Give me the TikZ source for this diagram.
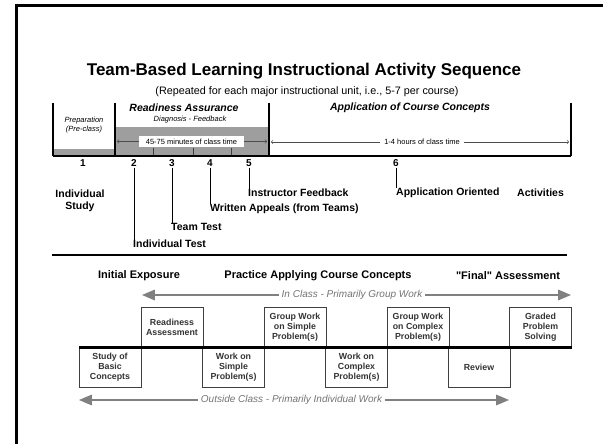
\documentclass[tikz,border=0pt]{standalone}
\usepackage{fontspec}
\setmainfont{Liberation Sans}
\usetikzlibrary{arrows, positioning}

\begin{document}
\begin{tikzpicture}[x=1pt, y=-1pt,
        lbl/.style = {font=\fontsize{10.5}{12.5}\selectfont\bfseries, inner sep=0pt},
        num/.style = {font=\fontsize{10}{12}\selectfont\bfseries, inner sep=1pt},
        phase/.style = {font=\fontsize{10.5}{12}\selectfont\bfseries\itshape, inner sep=0pt},
        tiny/.style = {font=\fontsize{7.5}{9}\selectfont, inner sep=0pt},
        box/.style = {draw=black!75, line width=0.8pt, minimum width=62pt, minimum height=40pt, inner sep=1pt, align=center, font=\fontsize{8.8}{9.8}\selectfont\bfseries, text=black!80},
        ghead/.style = {font=\fontsize{11}{13}\selectfont\bfseries, inner sep=0pt},
        glabel/.style = {font=\fontsize{10}{12}\selectfont\itshape, text=black!55, inner sep=3pt},
        garrow/.style = {draw=black!50, line width=2pt, -triangle 45},
        tarrow/.style = {draw=black!70, line width=0.6pt, -to}]
        \useasboundingbox (0,0) rectangle (603,444);
        \draw [line width=3pt] (16,444) -- (16,6) -- (603,6);

        % title
        \node[font=\fontsize{17}{20}\selectfont\bfseries] (title) at (304,71) {Team-Based Learning Instructional Activity Sequence};
        \node[font=\fontsize{10.8}{13}\selectfont] (sub) at (307,92) {(Repeated for each major instructional unit, i.e., 5-7 per course)};

        % upper time line
        \fill [black!38] (115,127) rectangle (269,156);
        \fill [black!38] (53,149) rectangle (115,156);
        \foreach \x in {153, 193, 231}
                \draw [line width=0.9pt, black!75] (\x,148) -- (\x,156);
        \draw [line width=1.6pt] (53,103) -- (53,156);
        \draw [line width=1.6pt] (115,103) -- (115,156);
        \draw [line width=1.6pt] (269,103) -- (269,156);
        \draw [line width=1.6pt] (571,103) -- (571,156);
        \draw [line width=2.4pt] (53,156) -- (571,156);

        \node[tiny, font=\fontsize{7.5}{9}\selectfont\itshape, align=center] (prep) at (84,125) {Preparation\\(Pre-class)};
        \node[phase] (ra) at (184,108) {Readiness Assurance};
        \node[tiny, font=\fontsize{7.5}{9}\selectfont\itshape] (diag) at (190,120) {Diagnosis - Feedback};
        \node[phase] (acc) at (410,108) {Application of Course Concepts};

        \node[tiny, fill=white, minimum width=105pt, minimum height=11pt] (min) at (191.5,141.5) {45-75 minutes of class time};
        \coordinate (minL) at (117,141.5);
        \coordinate (minR) at (267,141.5);
        \draw [tarrow] (min.west) -- (minL);
        \draw [tarrow] (min.east) -- (minR);

        \node[tiny, inner sep=4pt] (hrs) at (422,142) {1-4 hours of class time};
        \coordinate (hrsL) at (271,142);
        \coordinate (hrsR) at (569,142);
        \draw [tarrow] (hrs.west) -- (hrsL);
        \draw [tarrow] (hrs.east) -- (hrsR);

        \node[num] at (83,163) (n1) {1};
        \node[num] at (134,163) (n2) {2};
        \node[num] at (172,163) (n3) {3};
        \node[num] at (210,163) (n4) {4};
        \node[num] at (249,163) (n5) {5};
        \node[num] at (396,163) (n6) {6};

        \node[lbl, align=center] at (80,201) (study) {Individual\\Study};
        \node[lbl, anchor=west] at (133,244) (itest) {Individual Test};
        \node[lbl, anchor=west] at (171,227) (ttest) {Team Test};
        \node[lbl, anchor=west] at (210,209) (appeal) {Written Appeals (from Teams)};
        \node[lbl, anchor=west] at (248,193) (fback) {Instructor Feedback};
        \node[lbl, anchor=west] at (396,193) (apply) {Application Oriented};
        \node[lbl, anchor=west] at (517,193) (activ) {Activities};

        \draw [line width=0.8pt] (n2.south) -- (n2 |- itest.north);
        \draw [line width=0.8pt] (n3.south) -- (n3 |- ttest.north);
        \draw [line width=0.8pt] (n4.south) -- (n4 |- appeal.north);
        \draw [line width=0.8pt] (n5.south) -- (n5 |- fback.north);
        \draw [line width=0.8pt] (n6.south) -- (n6 |- apply.north);

        \draw [line width=2.4pt] (52,255) -- (567,255);

        % lower sequence
        \node[ghead] at (139,276) (init) {Initial Exposure};
        \node[ghead] at (318,276) (pract) {Practice Applying Course Concepts};
        \node[ghead] at (508,276) (final) {\textquotedbl Final\textquotedbl{} Assessment};

        \node[glabel] at (352,295) (incl) {In Class - Primarily Group Work};
        \coordinate (inclL) at (142,295);
        \coordinate (inclR) at (571,295);
        \draw [garrow] (incl.west) -- (inclL);
        \draw [garrow] (incl.east) -- (inclR);

        \node[box] at (110,367.5) (b1) {Study of\\Basic\\Concepts};
        \node[box] at (172,327) (b2) {Readiness\\Assessment};
        \node[box] at (233.5,367.5) (b3) {Work on\\Simple\\Problem(s)};
        \node[box] at (295,327) (b4) {Group Work\\on Simple\\Problem(s)};
        \node[box] at (356.5,367.5) (b5) {Work on\\Complex\\Problem(s)};
        \node[box] at (418,327) (b6) {Group Work\\on Complex\\Problem(s)};
        \node[box] at (479,367.5) (b7) {Review};
        \node[box] at (540.5,327) (b8) {Graded\\Problem\\Solving};
        \draw [line width=3pt] (79,347) -- (572,347);

        \node[glabel] at (291.5,400) (outcl) {Outside Class - Primarily Individual Work};
        \coordinate (outclL) at (79,400);
        \coordinate (outclR) at (509,400);
        \draw [garrow] (outcl.west) -- (outclL);
        \draw [garrow] (outcl.east) -- (outclR);
\end{tikzpicture}
\end{document}
